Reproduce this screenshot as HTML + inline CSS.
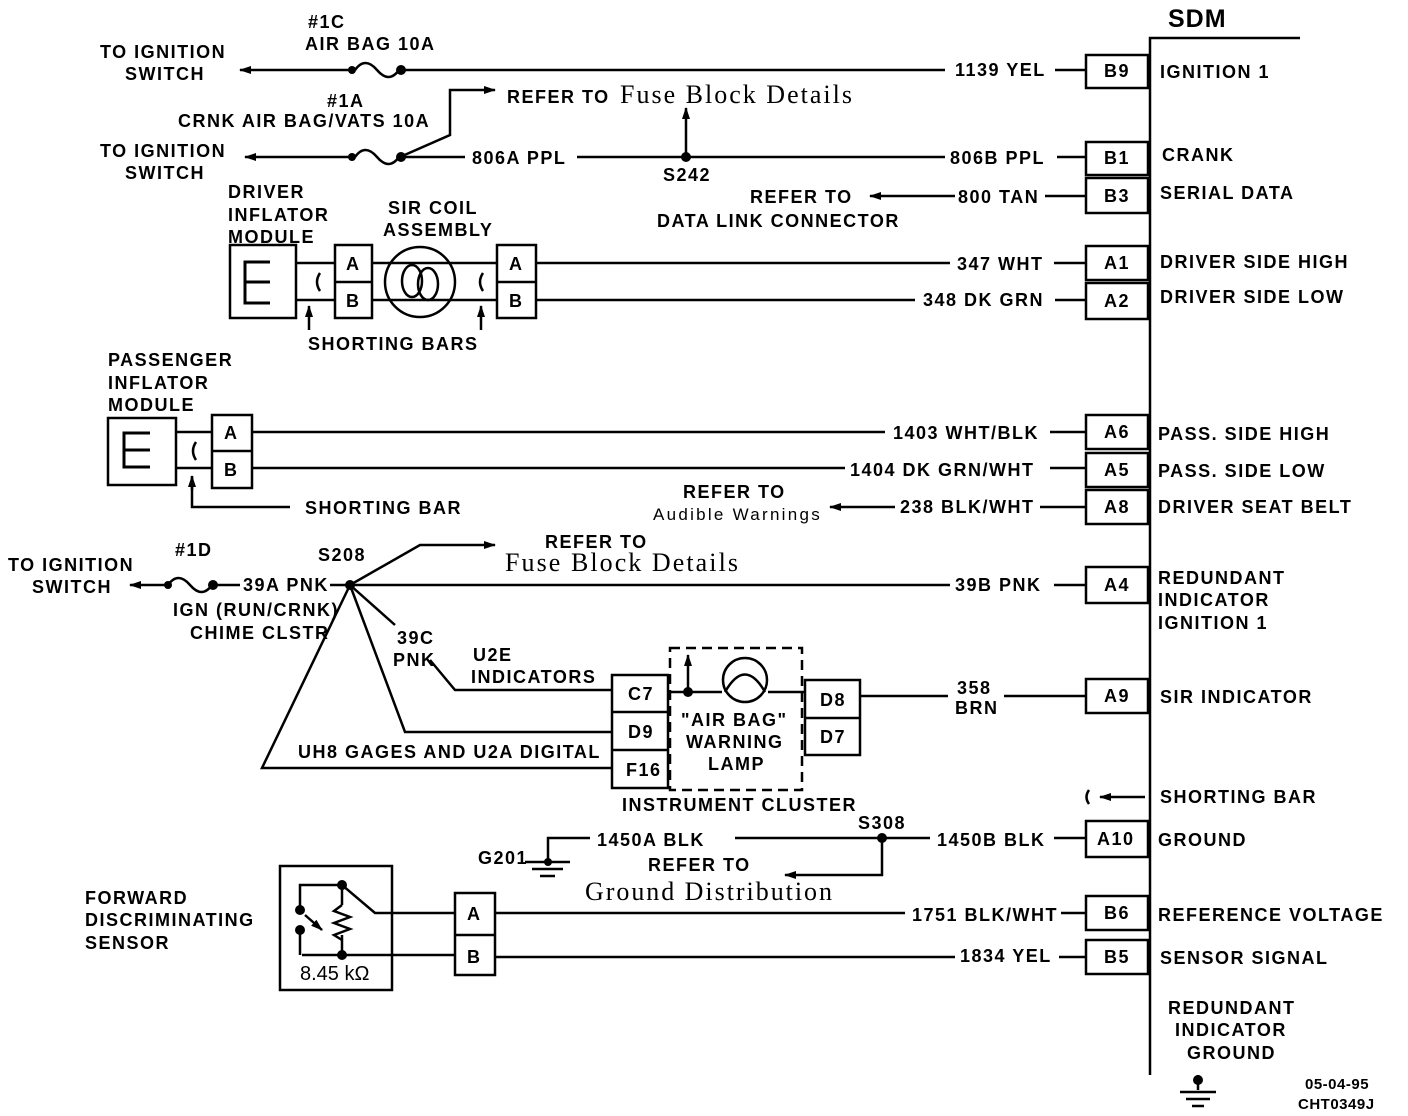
<!DOCTYPE html>
<html><head><meta charset="utf-8"><style>
html,body{margin:0;padding:0;background:#fff;}
svg{display:block;}
text{font-family:"Liberation Sans",sans-serif;font-weight:bold;font-size:18px;letter-spacing:1.5px;fill:#000;}
.s{font-family:"Liberation Serif",serif;font-weight:normal;font-size:26px;letter-spacing:0;}
.s2{font-family:"Liberation Sans",sans-serif;font-weight:normal;font-size:17px;letter-spacing:0.3px;}
.w{fill:#fff;stroke:none;}
</style></head><body>
<svg width="1408" height="1116" viewBox="0 0 1408 1116" xmlns="http://www.w3.org/2000/svg">
<defs><marker id="ar" markerWidth="12" markerHeight="8" refX="11" refY="4" orient="auto" markerUnits="userSpaceOnUse"><path d="M0,0 L12,4 L0,8 Z" fill="#000"/></marker></defs>
<g stroke="#000" stroke-width="2.5" fill="none">
<path d="M1150,1075 V38 H1300"/>
<rect x="1086" y="55" width="62" height="33"/>
<rect x="1086" y="142" width="62" height="33"/><rect x="1086" y="178" width="62" height="35"/>
<rect x="1086" y="246" width="62" height="34"/><rect x="1086" y="283" width="62" height="36"/>
<rect x="1086" y="415" width="62" height="34"/><rect x="1086" y="453" width="62" height="34"/><rect x="1086" y="490" width="62" height="34"/>
<rect x="1086" y="567" width="62" height="36"/>
<rect x="1086" y="679" width="62" height="34"/>
<rect x="1086" y="821" width="62" height="36"/>
<rect x="1086" y="896" width="62" height="34"/><rect x="1086" y="940" width="62" height="34"/>
<path d="M400,70 H1086" /><path d="M350,70 H240" marker-end="url(#ar)"/>
<path d="M355,70 q10,-14 22,0 t22,0"/>
<path d="M400,157 H1086"/><path d="M350,157 H245" marker-end="url(#ar)"/>
<path d="M355,157 q10,-14 22,0 t22,0"/>
<path d="M400,157 L450,135 V90 H495" marker-end="url(#ar)"/>
<path d="M686,157 V108" marker-end="url(#ar)"/>
<path d="M1086,196 H1045"/><path d="M955,196 H870" marker-end="url(#ar)"/>
<rect x="230" y="245" width="66" height="73"/>
<path d="M270,262 H245 V303 H270 M245,282 H270" stroke-width="3"/>
<path d="M296,263 H335 M296,300 H335"/>
<rect x="335" y="245" width="37" height="73"/><path d="M335,282 H372"/>
<path d="M372,263 H497 M372,300 H497"/>
<circle cx="420" cy="282" r="35"/>
<ellipse cx="412" cy="281" rx="10" ry="16"/><ellipse cx="428" cy="284" rx="10" ry="16"/>
<rect x="497" y="245" width="39" height="73"/><path d="M497,282 H536"/>
<path d="M536,263 H1086 M536,300 H1086"/>
<path d="M320,273 q-6,9 0,18 M483,273 q-6,9 0,18"/>
<path d="M309,330 V306" marker-end="url(#ar)"/><path d="M481,330 V306" marker-end="url(#ar)"/>
<rect x="108" y="418" width="68" height="67"/>
<path d="M150,433 H124 V467 H150 M124,450 H150" stroke-width="3"/>
<path d="M176,432 H212 M176,468 H212"/>
<rect x="212" y="415" width="40" height="73"/><path d="M212,451 H252"/>
<path d="M252,432 H1086 M252,468 H1086"/>
<path d="M196,442 q-6,9 0,18"/>
<path d="M290,507 H192 V477" /><path d="M192,490 V476" marker-end="url(#ar)"/>
<path d="M1086,507 H1040"/><path d="M895,507 H830" marker-end="url(#ar)"/>
<path d="M165,585 H130" marker-end="url(#ar)"/>
<path d="M168,585 q10,-14 22,0 t22,0"/><path d="M212,585 H240"/>
<path d="M330,585 H1086"/>
<path d="M350,585 L420,545 H495" marker-end="url(#ar)"/>
<path d="M350,585 L395,625 M430,660 L455,690 H612"/>
<path d="M350,585 L405,732 H612"/>
<path d="M350,585 L262,768 H612"/>
<rect x="612" y="675" width="56" height="113"/><path d="M612,712 H668 M612,750 H668"/>
<rect x="670" y="648" width="132" height="142" stroke-dasharray="10,6"/>
<path d="M668,692 H722 M768,692 H805"/>
<circle cx="745" cy="680" r="22"/><path d="M725,692 q20,-35 40,0" />
<path d="M688,692 V655" marker-end="url(#ar)"/>
<rect x="805" y="680" width="55" height="75"/><path d="M805,718 H860"/>
<path d="M860,696 H1086"/>
<path d="M1089,790 q-5,7 0,14"/><path d="M1145,797 H1100" marker-end="url(#ar)"/>
<path d="M548,860 V838 H1086"/>
<path d="M882,838 V875 H785" marker-end="url(#ar)"/>
<path d="M525,862 H570 M532,869 H563 M540,876 H555"/>
<rect x="280" y="866" width="112" height="124"/>
<path d="M342,885 L375,913 H455 M302,955 H455"/>
<path d="M300,910 V885 H342 V905 M300,930 V955 M342,935 V955"/>
<path d="M342,905 l-8,6 l16,6 l-16,6 l16,6 l-16,6 l8,5"/>
<path d="M305,915 L322,930" marker-end="url(#ar)"/>
<rect x="455" y="893" width="40" height="82"/><path d="M455,935 H495"/>
<path d="M495,913 H1086 M495,957 H1086"/>
<path d="M1198,1075 V1090 M1180,1092 H1216 M1186,1099 H1210 M1192,1106 H1204"/>
</g>
<g fill="#000">
<circle cx="352" cy="70" r="4"/><circle cx="401" cy="70" r="5"/>
<circle cx="352" cy="157" r="4"/><circle cx="401" cy="157" r="5"/>
<circle cx="686" cy="157" r="5"/>
<circle cx="168" cy="585" r="4"/><circle cx="213" cy="585" r="5"/>
<circle cx="350" cy="585" r="5"/>
<circle cx="688" cy="692" r="5"/>
<circle cx="882" cy="838" r="5"/>
<circle cx="342" cy="885" r="5"/><circle cx="342" cy="955" r="5"/>
<circle cx="300" cy="910" r="5"/><circle cx="300" cy="930" r="5"/>
<circle cx="548" cy="862" r="4"/><circle cx="1198" cy="1080" r="5"/>
</g>
<rect class="w" x="945" y="58" width="110" height="24"/>
<rect class="w" x="465" y="146" width="112" height="24"/>
<rect class="w" x="945" y="146" width="112" height="24"/>
<rect class="w" x="950" y="252" width="104" height="24"/>
<rect class="w" x="915" y="289" width="140" height="24"/>
<rect class="w" x="885" y="421" width="165" height="24"/>
<rect class="w" x="845" y="457" width="205" height="24"/>
<rect class="w" x="950" y="573" width="104" height="24"/>
<rect class="w" x="948" y="680" width="56" height="40"/>
<rect class="w" x="590" y="827" width="145" height="24"/>
<rect class="w" x="930" y="827" width="124" height="24"/>
<rect class="w" x="905" y="902" width="156" height="24"/>
<rect class="w" x="955" y="945" width="104" height="24"/>
<text x="1168" y="27" style="font-size:25px;letter-spacing:1px">SDM</text>
<text x="308" y="28">#1C</text><text x="305" y="50">AIR BAG 10A</text>
<text x="100" y="58">TO IGNITION</text><text x="125" y="80">SWITCH</text>
<text x="955" y="76">1139 YEL</text>
<text x="327" y="107">#1A</text><text x="178" y="127">CRNK AIR BAG/VATS 10A</text>
<text x="507" y="103">REFER TO</text><text class="s" x="620" y="103" textLength="232" lengthAdjust="spacing">Fuse Block Details</text>
<text x="100" y="157">TO IGNITION</text><text x="125" y="179">SWITCH</text>
<text x="472" y="164">806A PPL</text><text x="663" y="181">S242</text>
<text x="950" y="164">806B PPL</text>
<text x="750" y="203">REFER TO</text><text x="657" y="227">DATA LINK CONNECTOR</text>
<text x="958" y="203">800 TAN</text>
<text x="228" y="198">DRIVER</text><text x="228" y="221">INFLATOR</text><text x="228" y="243">MODULE</text>
<text x="388" y="214">SIR COIL</text><text x="383" y="236">ASSEMBLY</text>
<text x="346" y="270">A</text><text x="346" y="307">B</text>
<text x="509" y="270">A</text><text x="509" y="307">B</text>
<text x="957" y="270">347 WHT</text><text x="923" y="306">348 DK GRN</text>
<text x="308" y="350">SHORTING BARS</text>
<text x="108" y="366">PASSENGER</text><text x="108" y="389">INFLATOR</text><text x="108" y="411">MODULE</text>
<text x="224" y="439">A</text><text x="224" y="476">B</text>
<text x="893" y="439">1403 WHT/BLK</text><text x="850" y="476">1404 DK GRN/WHT</text>
<text x="305" y="514">SHORTING BAR</text>
<text x="683" y="498">REFER TO</text><text class="s2" x="653" y="520" textLength="167">Audible Warnings</text>
<text x="900" y="513">238 BLK/WHT</text>
<text x="8" y="571">TO IGNITION</text><text x="32" y="593">SWITCH</text>
<text x="175" y="556">#1D</text><text x="243" y="591">39A PNK</text>
<text x="318" y="561">S208</text>
<text x="545" y="548">REFER TO</text><text class="s" x="505" y="571" textLength="233" lengthAdjust="spacing">Fuse Block Details</text>
<text x="173" y="616">IGN (RUN/CRNK)</text><text x="190" y="639">CHIME CLSTR</text>
<text x="955" y="591">39B PNK</text>
<text x="397" y="644">39C</text><text x="393" y="666">PNK</text>
<text x="473" y="661">U2E</text><text x="471" y="683">INDICATORS</text>
<text x="298" y="758">UH8 GAGES AND U2A DIGITAL</text>
<text x="628" y="700">C7</text><text x="628" y="738">D9</text><text x="626" y="776">F16</text>
<text x="820" y="706">D8</text><text x="820" y="743">D7</text>
<text x="681" y="726">"AIR BAG"</text><text x="686" y="748">WARNING</text><text x="708" y="770">LAMP</text>
<text x="622" y="811">INSTRUMENT CLUSTER</text>
<text x="957" y="694">358</text><text x="955" y="714">BRN</text>
<text x="858" y="829">S308</text><text x="478" y="864">G201</text>
<text x="597" y="846">1450A BLK</text><text x="937" y="846">1450B BLK</text>
<text x="648" y="871">REFER TO</text><text class="s" x="585" y="900" textLength="247" lengthAdjust="spacing">Ground Distribution</text>
<text x="85" y="904">FORWARD</text><text x="85" y="926">DISCRIMINATING</text><text x="85" y="949">SENSOR</text>
<text x="300" y="980" style="font-weight:normal;font-size:20px;letter-spacing:0">8.45 kΩ</text>
<text x="467" y="920">A</text><text x="467" y="963">B</text>
<text x="912" y="921">1751 BLK/WHT</text><text x="960" y="962">1834 YEL</text>
<text x="1104" y="77">B9</text><text x="1104" y="164">B1</text><text x="1104" y="202">B3</text>
<text x="1104" y="269">A1</text><text x="1104" y="307">A2</text>
<text x="1104" y="438">A6</text><text x="1104" y="476">A5</text><text x="1104" y="513">A8</text>
<text x="1104" y="591">A4</text><text x="1104" y="702">A9</text><text x="1097" y="845">A10</text>
<text x="1104" y="919">B6</text><text x="1104" y="963">B5</text>
<text x="1160" y="78">IGNITION 1</text>
<text x="1162" y="161">CRANK</text><text x="1160" y="199">SERIAL DATA</text>
<text x="1160" y="268">DRIVER SIDE HIGH</text><text x="1160" y="303">DRIVER SIDE LOW</text>
<text x="1158" y="440">PASS. SIDE HIGH</text><text x="1158" y="477">PASS. SIDE LOW</text>
<text x="1158" y="513">DRIVER SEAT BELT</text>
<text x="1158" y="584">REDUNDANT</text><text x="1158" y="606">INDICATOR</text><text x="1158" y="629">IGNITION 1</text>
<text x="1160" y="703">SIR INDICATOR</text>
<text x="1160" y="803">SHORTING BAR</text>
<text x="1158" y="846">GROUND</text>
<text x="1158" y="921">REFERENCE VOLTAGE</text><text x="1160" y="964">SENSOR SIGNAL</text>
<text x="1168" y="1014">REDUNDANT</text><text x="1175" y="1036">INDICATOR</text><text x="1187" y="1059">GROUND</text>
<text x="1305" y="1089" style="font-size:15px;letter-spacing:0.5px">05-04-95</text>
<text x="1298" y="1109" style="font-size:15px;letter-spacing:0.5px">CHT0349J</text>
</svg>
</body></html>
